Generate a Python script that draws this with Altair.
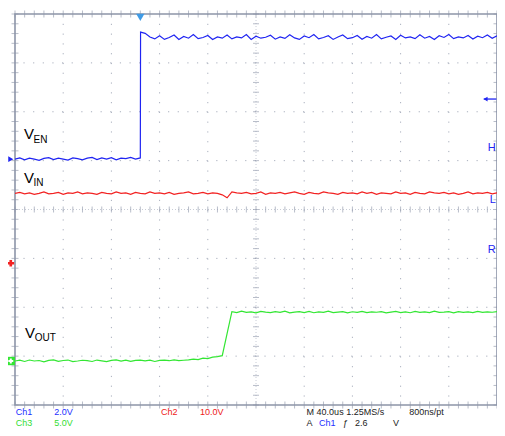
import altair as alt
import numpy as np
import pandas as pd

# ---------------- scope settings ----------------
T_DIV = 40.0                       # us per division, 10 divisions
CH1_VDIV, CH2_VDIV, CH3_VDIV = 2.0, 10.0, 5.0     # volts per division
CH1_OFF, CH2_OFF, CH3_OFF = 1.03, -1.10, -3.10    # ground markers (div)
TRIG_LEVEL_DIV = 2.26
SAMPLE_US = 4.0

# ---------------- traces (volts) ----------------
EN_LOW = [0.0, 0.05, -0.03, 0.04, 0.0, -0.05, 0.03, 0.06, -0.02, 0.04,
          0.0, -0.04, 0.05, 0.02, -0.03, 0.04, 0.07, -0.02, 0.05, 0.0,
          0.06, -0.03, 0.04, 0.02, 0.07, 0.0, 0.05]
EN_EDGE_T, EN_EDGE_V = 104.2, 5.2
EN_HIGH = [5.15, 5.0, 4.92, 5.05, 4.9, 4.98, 5.08, 4.9, 5.02, 4.95,
           5.1, 4.93, 4.98, 5.06, 4.9, 5.0, 4.95, 5.08, 4.92, 5.0,
           4.96, 5.1, 4.9, 5.03, 4.95, 4.99, 5.07, 4.91, 5.0, 4.94,
           5.09, 4.96, 4.9, 5.04, 4.97, 5.1, 4.92, 4.98, 5.05, 4.9,
           5.0, 5.08, 4.93, 4.97, 5.06, 4.91, 5.02, 4.95, 5.1, 4.92,
           4.99, 5.04, 4.9, 5.07, 4.96, 5.0, 4.93, 5.09, 4.95, 5.02,
           4.9, 5.05, 4.98, 5.1, 4.93, 5.0, 4.96, 5.06, 4.92, 5.03,
           4.97, 5.08, 4.95, 5.05]

VIN = [14.3, 14.5, 14.2, 14.4, 14.1, 14.3, 14.6, 14.2, 14.3, 14.5, 14.1, 14.4, 14.3, 14.6, 14.2, 14.4, 14.3, 14.1, 14.5, 14.3,
       14.2, 14.6, 14.3, 14.4, 14.1, 14.5, 14.3, 14.2, 14.6, 14.3, 14.4, 14.2, 14.5, 14.1, 14.3, 14.4, 14.6, 14.2, 14.3, 14.5,
       14.2, 14.4, 14.3, 14.0, 13.4, 14.6, 14.4, 14.3, 14.5, 14.2, 14.3, 14.6, 14.1, 14.4, 14.3, 14.5, 14.2, 14.4, 14.6, 14.3,
       14.1, 14.5, 14.3, 14.2, 14.6, 14.4, 14.3, 14.1, 14.5, 14.3, 14.4, 14.2, 14.6, 14.3, 14.5, 14.1, 14.4, 14.3, 14.2, 14.6,
       14.3, 14.4, 14.1, 14.5, 14.3, 14.2, 14.6, 14.4, 14.3, 14.5, 14.2, 14.4, 14.1, 14.3, 14.6, 14.2, 14.4, 14.3, 14.5, 14.2, 14.4]

VOUT = [0.0, 0.08, -0.05, 0.1, 0.0, 0.05, -0.08, 0.06, 0.12, -0.04, 0.05, 0.1, -0.06, 0.0, 0.08, 0.03, -0.05, 0.1, 0.02, -0.07,
        0.06, 0.12, 0.0, 0.09, -0.03, 0.07, 0.1, 0.02, 0.08, -0.05, 0.06, 0.1, 0.03, 0.12, 0.05, 0.08,
        0.12, 0.2, 0.15, 0.3, 0.25, 0.4, 0.45, 0.55,
        2.8,
        5.05, 4.95, 5.1, 4.98, 5.02, 4.92, 5.08, 5.0, 4.95, 5.06, 4.97, 5.1, 4.93, 5.0, 5.05, 4.96, 5.08, 4.94, 5.02, 4.98,
        5.1, 4.95, 5.0, 5.06, 4.92, 5.04, 4.97, 5.08, 4.95, 5.02, 4.99, 5.06, 4.93, 5.0, 5.08, 4.96, 5.03, 4.94, 5.07, 4.98,
        5.02, 4.95, 5.1, 4.97, 5.0, 5.05, 4.93, 5.06, 4.98, 5.02, 4.95, 5.08, 4.97, 5.03, 4.99, 5.05]

CH_NAMES = ["Ch1", "Ch2", "Ch3"]
CH_COLORS = ["#1f24f2", "#f22222", "#33e633"]

FONT = "Liberation Sans"
X_MAX = 10 * T_DIV

# ---------------- build trace table ----------------
en_t = list(np.arange(len(EN_LOW)) * SAMPLE_US) + [EN_EDGE_T] + \
       list(EN_EDGE_T - 0.2 + SAMPLE_US + np.arange(len(EN_HIGH)) * SAMPLE_US)
en_v = EN_LOW + [EN_EDGE_V] + EN_HIGH
vin_t = list(np.arange(len(VIN)) * SAMPLE_US)
vout_t = list(np.arange(len(VOUT)) * SAMPLE_US)

traces = pd.concat([
    pd.DataFrame({"t": en_t, "div": [CH1_OFF + v / CH1_VDIV for v in en_v], "ch": "Ch1", "o": range(len(en_t))}),
    pd.DataFrame({"t": vin_t, "div": [CH2_OFF + v / CH2_VDIV for v in VIN], "ch": "Ch2", "o": range(len(vin_t))}),
    pd.DataFrame({"t": vout_t, "div": [CH3_OFF + v / CH3_VDIV for v in VOUT], "ch": "Ch3", "o": range(len(vout_t))}),
])

xs = alt.Scale(domain=[0, X_MAX], nice=False, zero=False)
ys = alt.Scale(domain=[-4, 4], nice=False, zero=False)
X = lambda f="t": alt.X(f, type="quantitative", scale=xs, axis=None)
Y = lambda f="div": alt.Y(f, type="quantitative", scale=ys, axis=None)

GRID = "#a9afbd"
TICK = "#9aa1b2"

# ---------------- graticule ----------------
vgrid = pd.DataFrame({"t": [T_DIV * i for i in range(1, 10) if i != 5]})
hgrid = pd.DataFrame({"div": [i for i in range(-3, 4) if i != 0]})
vlines = alt.Chart(vgrid).mark_rule(color=GRID, strokeWidth=1, strokeDash=[1.2, 8.58]).encode(x=X())
hlines = alt.Chart(hgrid).mark_rule(color=GRID, strokeWidth=1, strokeDash=[1.2, 8.44]).encode(y=Y())

cv = alt.Chart(pd.DataFrame({"t": [5 * T_DIV]})).mark_rule(color="#c8ccd6", strokeWidth=1, strokeDash=[1, 2]).encode(x=X())
ch = alt.Chart(pd.DataFrame({"div": [0]})).mark_rule(color="#c8ccd6", strokeWidth=1, strokeDash=[1, 2]).encode(y=Y())

minor_y = np.round(np.arange(-4, 4.001, 0.2), 3)
minor_t = np.round(np.arange(0, X_MAX + 0.001, T_DIV / 5), 3)
cv_ticks = alt.Chart(pd.DataFrame({"t": 5 * T_DIV, "div": minor_y})).mark_tick(
    orient="horizontal", size=6, thickness=1, color=TICK).encode(x=X(), y=Y())
ch_ticks = alt.Chart(pd.DataFrame({"t": minor_t, "div": 0})).mark_tick(
    orient="vertical", size=6, thickness=1, color=TICK).encode(x=X(), y=Y())
top_ticks = alt.Chart(pd.DataFrame({"t": minor_t, "div": 4})).mark_tick(
    orient="vertical", size=7, thickness=1, color=TICK).encode(x=X(), y=Y())
bot_ticks = alt.Chart(pd.DataFrame({"t": minor_t, "div": -4})).mark_tick(
    orient="vertical", size=7, thickness=1, color=TICK).encode(x=X(), y=Y())
left_ticks = alt.Chart(pd.DataFrame({"t": 0, "div": minor_y})).mark_tick(
    orient="horizontal", size=7, thickness=1, color=TICK).encode(x=X(), y=Y())
right_ticks = alt.Chart(pd.DataFrame({"t": X_MAX, "div": minor_y})).mark_tick(
    orient="horizontal", size=7, thickness=1, color=TICK).encode(x=X(), y=Y())

frame = alt.Chart(pd.DataFrame({"t": [0], "t2": [X_MAX], "div": [-4], "div2": [4]})).mark_rect(
    fill=None, stroke="#8d95a8", strokeWidth=1.6).encode(x=X(), x2="t2", y=Y(), y2="div2")

# ---------------- traces ----------------
lines = alt.Chart(traces).mark_line(strokeWidth=1.2, clip=True).encode(
    x=X(), y=Y(),
    color=alt.Color("ch:N", scale=alt.Scale(domain=CH_NAMES, range=CH_COLORS), legend=None),
    order="o:Q",
)

# ---------------- markers ----------------
mk_t = -3.5
m_ch1 = alt.Chart(pd.DataFrame({"t": [mk_t], "div": [CH1_OFF]})).mark_point(
    shape="triangle-right", filled=True, size=35, color=CH_COLORS[0], opacity=1).encode(x=X(), y=Y())
m_ch2 = alt.Chart(pd.DataFrame({"t": [mk_t], "div": [CH2_OFF]})).mark_point(
    shape="cross", filled=True, size=45, color=CH_COLORS[1], opacity=1).encode(x=X(), y=Y())
m_ch3 = alt.Chart(pd.DataFrame({"t": [mk_t], "div": [CH3_OFF]})).mark_point(
    shape="square", filled=True, size=70, color=CH_COLORS[2], opacity=1).encode(x=X(), y=Y())
m_ch3b = alt.Chart(pd.DataFrame({"t": [mk_t], "div": [CH3_OFF]})).mark_point(
    shape="cross", filled=True, size=25, color="white", opacity=1).encode(x=X(), y=Y())

trig_pos = alt.Chart(pd.DataFrame({"t": [EN_EDGE_T - 0.2], "div": [3.93]})).mark_point(
    shape="triangle-down", filled=True, size=70, color="#3f9be6", opacity=1).encode(x=X(), y=Y())
trig_lvl_line = alt.Chart(pd.DataFrame({"t": [389.0], "t2": [399.5], "div": [TRIG_LEVEL_DIV]})).mark_rule(
    color=CH_COLORS[0], strokeWidth=1.3).encode(x=X(), x2="t2", y=Y())
trig_lvl_head = alt.Chart(pd.DataFrame({"t": [390.5], "div": [TRIG_LEVEL_DIV]})).mark_point(
    shape="triangle-left", filled=True, size=22, color=CH_COLORS[0], opacity=1).encode(x=X(), y=Y())

edge_labels = alt.Chart(pd.DataFrame({"t": [399.0] * 3, "div": [1.26, 0.19, -0.83], "s": ["H", "L", "R"]})).mark_text(
    align="right", baseline="middle", font=FONT, fontSize=11, color=CH_COLORS[0]).encode(x=X(), y=Y(), text="s:N")

# ---------------- trace names (V + subscript) ----------------
names_main = pd.DataFrame({"t": [7.5, 7.5, 8.3], "div": [1.44, 0.54, -2.63], "s": ["V", "V", "V"]})
names_sub = pd.DataFrame({"t": [15.4, 15.4, 16.3], "div": [1.36, 0.48, -2.69], "s": ["EN", "IN", "OUT"]})
lab_main = alt.Chart(names_main).mark_text(align="left", baseline="alphabetic", font=FONT, fontSize=15,
                                           color="black").encode(x=X(), y=Y(), text="s:N")
lab_sub = alt.Chart(names_sub).mark_text(align="left", baseline="alphabetic", font=FONT, fontSize=10,
                                         color="black").encode(x=X(), y=Y(), text="s:N")

# ---------------- status text below the screen ----------------
STATUS_TEXT = ["Ch1", "2.0V", "Ch2", "10.0V", "M 40.0us 1.25MS/s", "800ns/pt",
               "Ch3", "5.0V", "A", "Ch1", "\u0192", "2.6", "V"]
STATUS_T = [0.6, 32.6, 121.2, 153.5, 242.0, 327.2,
            0.6, 32.6, 242.0, 252.3, 272.2, 282.2, 313.7]
STATUS_DIV = [-4.205] * 6 + [-4.43] * 7
STATUS_COL = ["#2230ff", "#2230ff", "#ee2020", "#ee2020", "#222222", "#222222",
              "#33dd33", "#33dd33", "#222222", "#2230ff", "#222222", "#222222", "#222222"]
status = alt.Chart(pd.DataFrame({"t": STATUS_T, "div": STATUS_DIV, "s": STATUS_TEXT, "c": STATUS_COL})).mark_text(
    align="left", baseline="alphabetic", font=FONT, fontSize=9).encode(
    x=X(), y=Y(), text="s:N", color=alt.Color("c:N", scale=None))

chart = alt.layer(
    vlines, hlines, cv, ch, cv_ticks, ch_ticks, top_ticks, bot_ticks, left_ticks, right_ticks, frame,
    lines, m_ch1, m_ch2, m_ch3, m_ch3b, trig_pos, trig_lvl_line, trig_lvl_head, edge_labels,
    lab_main, lab_sub, status,
).properties(
    width=482, height=391,
    autosize=alt.AutoSizeParams(type="none"),
    padding={"left": 7, "top": 6, "right": 0, "bottom": 23},
    background="white",
).configure_view(stroke=None)

chart.save("out.html", embed_options={"renderer": "svg", "actions": False})
